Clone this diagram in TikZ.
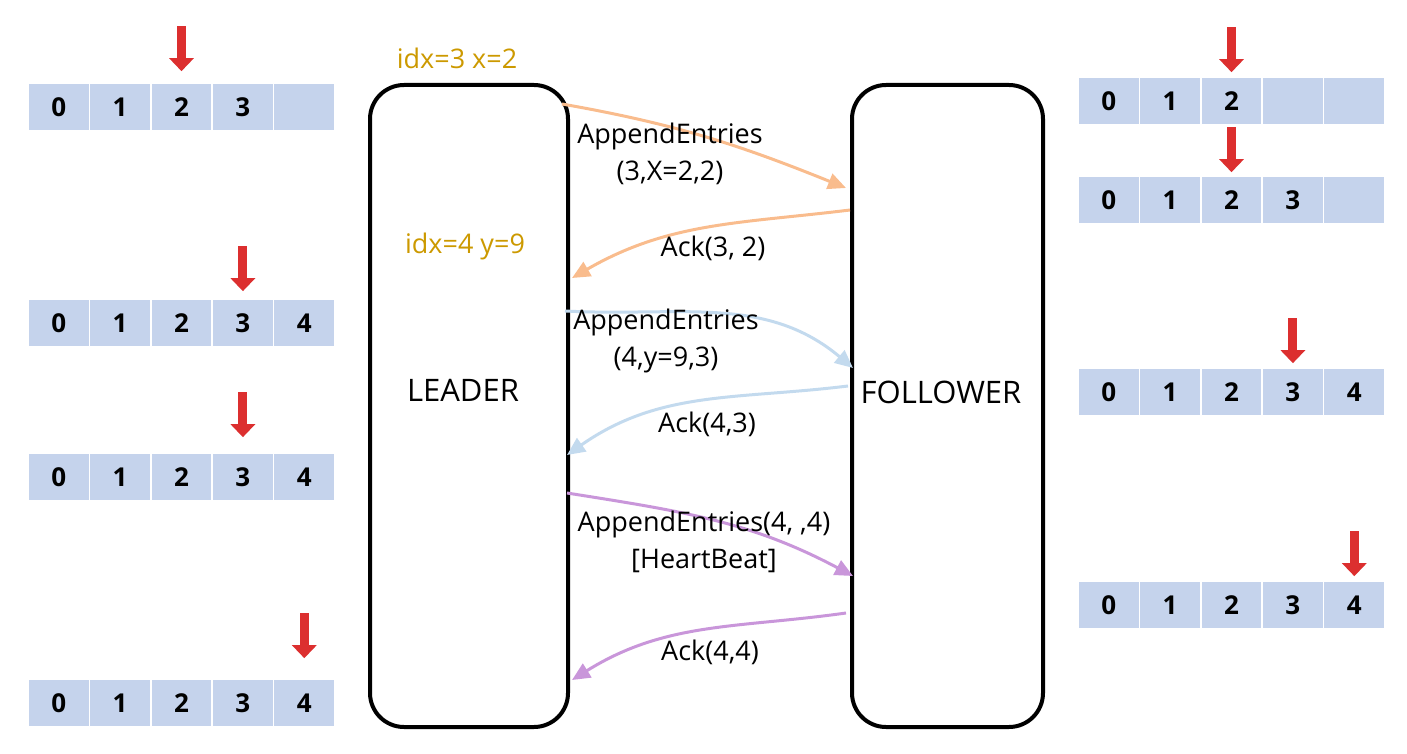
\documentclass[tikz,border=0pt]{standalone}
\usepackage{fontspec}
\setmainfont{Open Sans}
\usetikzlibrary{arrows.meta}
\definecolor{cellblue}{HTML}{C5D3EC}
\definecolor{ptrred}{HTML}{DC2F2F}
\definecolor{msgorange}{HTML}{F9BC8D}
\definecolor{msgblue}{HTML}{C3DAEE}
\definecolor{msgpurple}{HTML}{C996DA}
\definecolor{idxgold}{HTML}{CC9900}
\tikzset{
    cell/.style={fill=cellblue,draw=white,line width=0.8pt,minimum width=30.7pt,minimum height=24pt,
        inner sep=0pt,font=\fontsize{13}{15}\selectfont\bfseries},
    ptr/.style={draw=ptrred,line width=4.5pt,-{Triangle[width=12pt,length=6.5pt]}},
    server/.style={draw,line width=2pt,rounded corners=17pt,inner sep=0pt,minimum height=321pt},
    msg/.style={line width=1.5pt,-{Triangle[width=8pt,length=9pt]}},
    txt/.style={font=\fontsize{13.5}{18.5}\selectfont,align=center,inner sep=0pt},
    role/.style={font=\fontsize{15.5}{18}\selectfont,inner sep=0pt},
}

\begin{document}
\begin{tikzpicture}[x=0.5pt,y=-0.5pt]
    \useasboundingbox(0,0) rectangle (1407,754);
    % logs of leader (left) and follower (right)
    \foreach\xo/\yc/\n/\p/\g[count=\r] in{28/107/4/2/5.5,28/323/5/3/3.5,28/477/5/3/7.5,28/703/5/4/10,
        1078/101/3/2/2,1078/200/4/2/1.5,1078/392/5/3/2,1078/605/5/4/2}{
        \foreach\i in{0,...,4}{
            \node[cell] at(\xo+61.4*\i+30.7,\yc)(r\r-\i){\ifnum\i<\n\relax\i\fi};
        }
        \draw[ptr]([yshift=\g pt+22.5pt]r\r-\p.north) -- ([yshift=\g pt]r\r-\p.north);
    }
    % servers
    \node[server,minimum width=99pt] at(469,406)(leader){};
    \node[server,minimum width=95.5pt] at(947.5,406)(follower){};
    \node[role] at(463,390)(leaderlbl){LEADER};
    \node[role] at(941,392)(followerlbl){FOLLOWER};
    \node[txt,text=idxgold] at(457,58)(idxx){idx=3 x=2};
    \node[txt,text=idxgold] at(465,246)(idxy){idx=4 y=9};
    % messages
    \draw[msg,msgorange]([xshift=-4pt,yshift=151pt]leader.east) to[out=-10,in=158] ([xshift=-2pt,yshift=109pt]follower.west);
    \draw[msg,msgorange]([yshift=98pt]follower.west) to[out=187,in=30] ([xshift=1pt,yshift=64pt]leader.east);
    \draw[msg,msgblue]([xshift=-2.5pt,yshift=47.5pt]leader.east) to[out=-3,in=140] ([xshift=1.5pt,yshift=19pt]follower.west);
    \draw[msg,msgblue]([xshift=-1pt,yshift=10pt]follower.west) to[out=187,in=35] ([xshift=-1.5pt,yshift=-24.5pt]leader.east);
    \draw[msg,msgpurple]([xshift=-1.5pt,yshift=-43.5pt]leader.east) to[out=-9,in=152] ([xshift=1.5pt,yshift=-85pt]follower.west);
    \draw[msg,msgpurple]([xshift=-2pt,yshift=-103.5pt]follower.west) to[out=188,in=32] ([xshift=1pt,yshift=-137pt]leader.east);
    \node[txt] at(670,153.5)(ae1){AppendEntries\\(3,X=2,2)};
    \node[txt] at(713,248)(ack1){Ack(3, 2)};
    \node[txt] at(666,341)(ae2){AppendEntries\\(4,y=9,3)};
    \node[txt] at(707,424)(ack2){Ack(4,3)};
    \node[txt] at(704,542)(ae3){AppendEntries(4, ,4)\\{[HeartBeat]}};
    \node[txt] at(710,652)(ack3){Ack(4,4)};
\end{tikzpicture}
\end{document}
